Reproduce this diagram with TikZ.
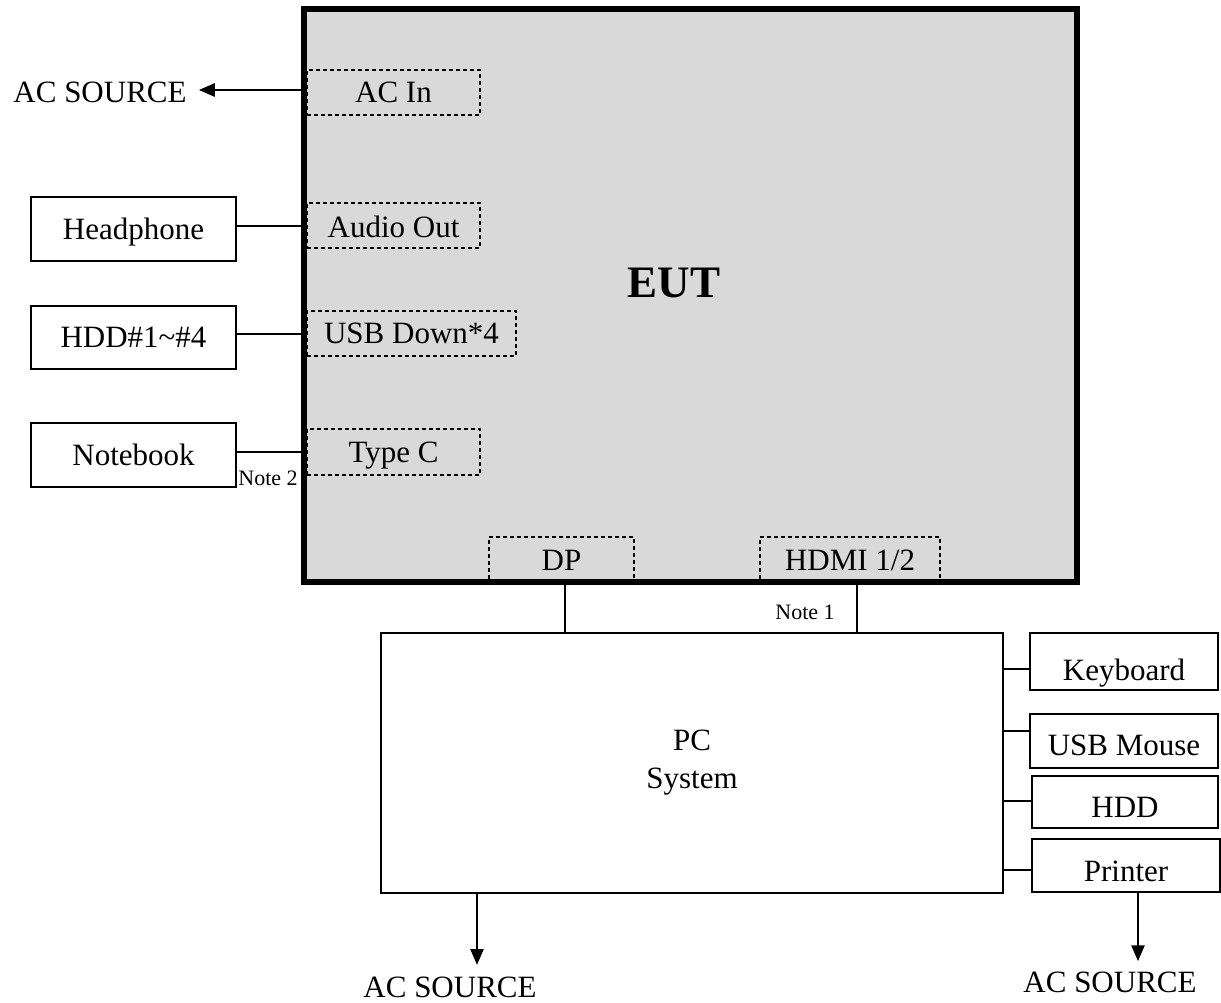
\documentclass[tikz,border=0pt]{standalone}
\usepackage{fontspec}
\setmainfont{Liberation Serif}
\usetikzlibrary{arrows.meta,calc}
\definecolor{eutgray}{HTML}{D9D9D9}
\begin{document}
\begin{tikzpicture}[x=1pt,y=-1pt,
  txt/.style={font=\fontsize{31}{38}\selectfont, inner sep=0pt},
  small/.style={font=\fontsize{22}{26}\selectfont, inner sep=0pt},
  eutbox/.style={draw=black, line width=4pt, fill=eutgray, rectangle, inner sep=0pt},
  port/.style={draw=black, line width=1.1pt, dash pattern=on 4pt off 3pt, rectangle, inner sep=0pt,
    font=\fontsize{31}{38}\selectfont, text height=20.5pt, text depth=0pt},
  devbox/.style={draw=black, line width=2.5pt, fill=white, rectangle, inner sep=0pt,
    font=\fontsize{31}{38}\selectfont, text height=20.5pt, text depth=0pt},
  lower/.style={text height={20.5pt+2*#1}},
  pcbox/.style={draw=black, line width=2.5pt, fill=white, rectangle, inner sep=0pt,
    font=\fontsize{31}{38}\selectfont},
  conn/.style={draw=black, line width=2pt},
  arr/.style={draw=black, line width=2.5pt, -{Triangle[length=16pt,width=13pt]}}
]
\useasboundingbox (0,0) rectangle (1221,1003);
\fill[white] (0,0) rectangle (1221,1003);

% EUT
\node[eutbox, minimum width=771pt, minimum height=571pt] (eut) at (690.5,295.5) {};
\node[font=\fontsize{45}{50}\selectfont\bfseries, inner sep=0pt] (euttxt) at (674,283) {EUT};

% ports
\node[port, minimum width=173pt, minimum height=45pt] (acin) at (393.5,92.5) {AC In};
\node[port, minimum width=173pt, minimum height=45pt, lower=1.5pt] (audio) at (393.5,225.5) {Audio Out};
\node[port, minimum width=209pt, minimum height=45pt] (usb) at (411.5,333.5) {USB Down*4};
\node[port, minimum width=173pt, minimum height=46pt] (typec) at (393.5,452) {Type C};
\node[port, minimum width=145pt, minimum height=43pt, lower=1.5pt] (dp) at (561.5,558.5) {DP};
\node[port, minimum width=180pt, minimum height=43pt, lower=1.5pt] (hdmi) at (850,558.5) {HDMI 1/2};

% redraw EUT border over port edges
\draw[line width=4pt] (eut.south west) rectangle (eut.north east);

% AC source top-left
\node[txt] (acsrc1) at (100,92) {AC SOURCE};
\draw[arr] (acin.west |- 0,90) -- ($(acsrc1.east |- 0,90)+(12,0)$);

% left devices
\node[devbox, minimum width=205pt, minimum height=64pt] (headphone) at (133.5,229) {Headphone};
\node[devbox, minimum width=205pt, minimum height=63pt] (hdd4) at (133.5,337.5) {HDD\#1\textasciitilde\#4};
\node[devbox, minimum width=205pt, minimum height=64pt] (notebook) at (133.5,455) {Notebook};
\draw[conn] ($(headphone.east)+(0,-3)$) -- ($(headphone.east -| eut.west)+(0,-3)$);
\draw[conn] ($(hdd4.east)+(0,-3.5)$) -- ($(hdd4.east -| eut.west)+(0,-3.5)$);
\draw[conn] ($(notebook.east)+(0,-3)$) -- ($(notebook.east -| eut.west)+(0,-3)$);
\node[small] (note2) at (268,478) {Note 2};

% PC system
\node[pcbox, minimum width=622pt, minimum height=260pt, align=center] (pc) at (692,763) {PC\\System};
\draw[conn] ($(dp.south)+(3.5,0)$) -- ($(dp.south |- pc.north)+(3.5,0)$);
\draw[conn] ($(hdmi.south)+(7,0)$) -- ($(hdmi.south |- pc.north)+(7,0)$);
\node[small] (note1) at (805,612) {Note 1};

% right devices
\node[devbox, minimum width=188pt, minimum height=57pt, lower=9pt] (keyboard) at (1124,661.5) {Keyboard};
\node[devbox, minimum width=188pt, minimum height=54pt, lower=4pt] (mouse) at (1124,741) {USB Mouse};
\node[devbox, minimum width=186pt, minimum height=52pt, lower=5.5pt] (hddr) at (1125,802) {HDD};
\node[devbox, minimum width=188pt, minimum height=53pt, lower=5.5pt] (printer) at (1126,865.5) {Printer};
\draw[conn] ($(keyboard.west -| pc.east)+(0,7.5)$) -- ($(keyboard.west)+(0,7.5)$);
\draw[conn] ($(mouse.west -| pc.east)+(0,-10)$) -- ($(mouse.west)+(0,-10)$);
\draw[conn] ($(hddr.west -| pc.east)+(0,-1)$) -- ($(hddr.west)+(0,-1)$);
\draw[conn] ($(printer.west -| pc.east)+(0,4.5)$) -- ($(printer.west)+(0,4.5)$);

% bottom AC sources
\node[txt] (acsrc2) at (450,987) {AC SOURCE};
\node[txt] (acsrc3) at (1110,982) {AC SOURCE};
\draw[arr] (pc.south -| 477,0) -- (477,965);
\draw[arr] ($(printer.south)+(12,0)$) -- ($(printer.south)+(12,68)$);
\end{tikzpicture}
\end{document}
